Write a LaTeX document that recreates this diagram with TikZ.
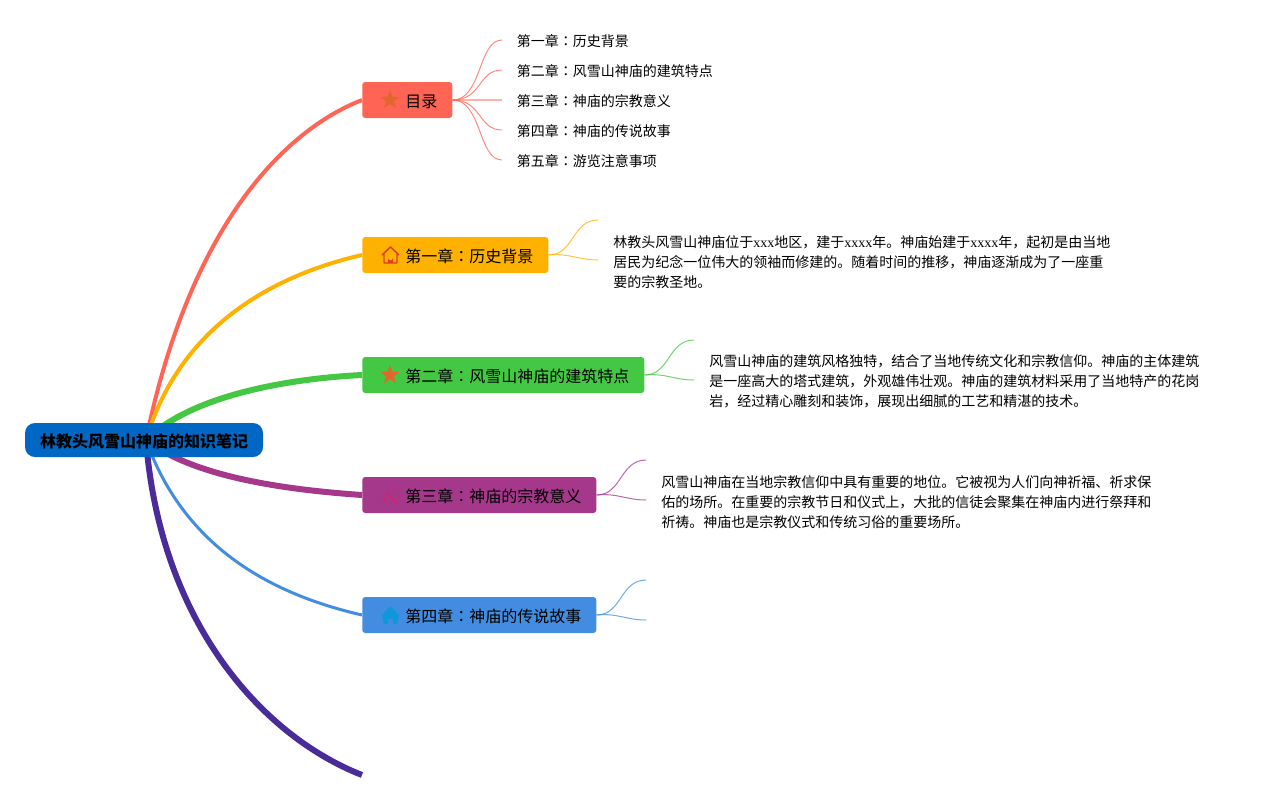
\documentclass[tikz,border=0pt]{standalone}
\usepackage{fontspec}
\setmainfont{Noto Sans CJK SC}
\newfontfamily\colonfont{Noto Sans CJK TC}
\newfontfamily\latinfont{Liberation Serif}
\usepackage{tikz}
\usetikzlibrary{shapes.geometric, positioning, backgrounds}

\newcommand{\cln}{{\colonfont ：}}
\newcommand{\xs}[1]{{\latinfont #1}}

\begin{document}
\begin{tikzpicture}[
    x=0.75pt, y=-0.75pt,
    node distance=48.75pt,
    topic/.style={draw=none, fill=#1, rounded corners=2.25pt, minimum height=27pt, inner xsep=11.25pt, inner ysep=0pt, text height=11.5pt, text depth=0.9pt, font=\fontsize{12}{15}\selectfont, execute at begin node=\hspace*{21pt}},
    rootnode/.style={fill=rootblue, rounded corners=7.5pt, minimum width=178.5pt, minimum height=25.5pt, inner sep=0pt, text height=11.5pt, text depth=0.9pt, font=\fontsize{12}{15}\selectfont\bfseries},
    leaf/.style={inner sep=0pt, anchor=west, font=\fontsize{10.5}{15}\selectfont},
    para/.style={inner sep=0pt, align=left, font=\fontsize{10.5}{15}\selectfont},
    limb/.style={line width=3pt},
    twig/.style={line width=0.75pt, opacity=0.75},
    staricon/.style={star, star points=5, star point ratio=2.4, fill=iconorange, inner sep=0pt, minimum size=15pt}
]
    \definecolor{rootblue}{HTML}{0067C5}
    \definecolor{tocred}{HTML}{FF6455}
    \definecolor{oneyellow}{HTML}{FFB100}
    \definecolor{twogreen}{HTML}{44C742}
    \definecolor{threepurple}{HTML}{A5388A}
    \definecolor{fourblue}{HTML}{438DE0}
    \definecolor{fiveindigo}{HTML}{492C99}
    \definecolor{iconorange}{HTML}{E2672F}
    \definecolor{iconred}{HTML}{E23A2A}
    \definecolor{iconpink}{HTML}{D9206F}
    \definecolor{iconblue}{HTML}{1296DB}

    \useasboundingbox (0,0) rectangle (1269,800);

    % Root and chapter nodes
    \node[rootnode] (root) at (144,440) {林教头风雪山神庙的知识笔记};
    \node[topic=tocred, anchor=west] (toc) at (362,100) {目录};
    \node[topic=oneyellow, anchor=west] (chone) at (362,255) {第一章\cln 历史背景};
    \node[topic=twogreen, anchor=west] (chtwo) at (362,375) {第二章\cln 风雪山神庙的建筑特点};
    \node[topic=threepurple, anchor=west] (chthree) at (362,495) {第三章\cln 神庙的宗教意义};
    \node[topic=fourblue, anchor=west] (chfour) at (362,615) {第四章\cln 神庙的传说故事};
    \coordinate (chfive) at (362,775);

    % Main branches
    \begin{scope}[on background layer]
        \draw[limb, tocred] ([xshift=1.5pt]root.center) .. controls (190,225) and (285,130) .. (toc.west);
        \draw[limb, oneyellow] ([xshift=1.5pt]root.center) .. controls (180,325) and (275,275) .. (chone.west);
        \draw[limb, twogreen, line width=4.5pt] ([xshift=1.5pt]root.center) .. controls (195,392) and (300,378) .. (chtwo.west);
        \draw[limb, threepurple, line width=4.5pt] ([xshift=1.5pt]root.center) .. controls (195,478) and (290,490) .. (chthree.west);
        \draw[limb, fourblue, line width=2.25pt] ([xshift=1.5pt]root.center) .. controls (185,550) and (275,595) .. (chfour.west);
        \draw[limb, fiveindigo, line width=4.5pt] ([xshift=1.5pt]root.center) .. controls (160,620) and (260,735) .. (chfive);
    \end{scope}

    % Contents
    \node[leaf] (tocone) at (516.5,41.5) {第一章\cln 历史背景};
    \node[leaf] (toctwo) at (516.5,71.5) {第二章\cln 风雪山神庙的建筑特点};
    \node[leaf] (tocthree) at (516.5,101.5) {第三章\cln 神庙的宗教意义};
    \node[leaf] (tocfour) at (516.5,131.5) {第四章\cln 神庙的传说故事};
    \node[leaf] (tocfive) at (516.5,161.5) {第五章\cln 游览注意事项};

    \coordinate (tipa) at (502,40);
    \coordinate (tipb) at (502,70);
    \coordinate (tipc) at (502,100);
    \coordinate (tipd) at (502,130);
    \coordinate (tipe) at (502,160);
    \draw[twig, tocred] (toc.east) .. controls (482,100) and (478,40) .. (tipa);
    \draw[twig, tocred] (toc.east) .. controls (482,100) and (478,70) .. (tipb);
    \draw[twig, tocred, line width=1.5pt, opacity=0.5] (toc.east) -- (tipc);
    \draw[twig, tocred] (toc.east) .. controls (482,100) and (478,130) .. (tipd);
    \draw[twig, tocred] (toc.east) .. controls (482,100) and (478,160) .. (tipe);

    % Chapter texts
    \node[para, right=of chone, yshift=-5pt, xshift=-0.4pt] (textone) {林教头风雪山神庙位于\xs{xxx}地区，建于\xs{xxxx}年。神庙始建于\xs{xxxx}年，起初是由当地\\居民为纪念一位伟大的领袖而修建的。随着时间的推移，神庙逐渐成为了一座重\\要的宗教圣地。};
    \node[para, right=of chtwo, yshift=-5pt, xshift=-0.4pt] (texttwo) {风雪山神庙的建筑风格独特，结合了当地传统文化和宗教信仰。神庙的主体建筑\\是一座高大的塔式建筑，外观雄伟壮观。神庙的建筑材料采用了当地特产的花岗\\岩，经过精心雕刻和装饰，展现出细腻的工艺和精湛的技术。};
    \node[para, right=of chthree, yshift=-5pt, xshift=-0.4pt] (textthree) {风雪山神庙在当地宗教信仰中具有重要的地位。它被视为人们向神祈福、祈求保\\佑的场所。在重要的宗教节日和仪式上，大批的信徒会聚集在神庙内进行祭拜和\\祈祷。神庙也是宗教仪式和传统习俗的重要场所。};

    % Chapter twigs
    \coordinate (onea) at (598,220);
    \coordinate (oneb) at (598,260);
    \draw[twig, oneyellow] (chone.east) .. controls (574,255) and (572,220) .. (onea);
    \draw[twig, oneyellow] (chone.east) .. controls (570,253) and (578,260) .. (oneb);
    \coordinate (twoa) at (694,340);
    \coordinate (twob) at (694,380);
    \draw[twig, twogreen] (chtwo.east) .. controls (670,375) and (668,340) .. (twoa);
    \draw[twig, twogreen] (chtwo.east) .. controls (666,373) and (674,380) .. (twob);
    \coordinate (threea) at (646,460);
    \coordinate (threeb) at (646,500);
    \draw[twig, threepurple] (chthree.east) .. controls (622,495) and (620,460) .. (threea);
    \draw[twig, threepurple] (chthree.east) .. controls (618,493) and (626,500) .. (threeb);
    \coordinate (foura) at (646,580);
    \coordinate (fourb) at (646,620);
    \draw[twig, fourblue] (chfour.east) .. controls (622,615) and (620,580) .. (foura);
    \draw[twig, fourblue] (chfour.east) .. controls (618,613) and (626,620) .. (fourb);

    % Icons
    \node[staricon] (tocicon) at ([xshift=21pt]toc.west) {};
    \node[staricon] (twoicon) at ([xshift=21pt]chtwo.west) {};
    \draw[iconred, line width=1.1pt, line join=round] (382,255) -- (390.5,247) -- (399,255) (384,253) -- (384,263) -- (397,263) -- (397,253);
    \fill[iconred] (388,263) -- (388,258) arc[start angle=180, end angle=0, radius=2.5] -- (393,263) -- cycle;
    \draw[iconpink, line width=1.5pt] (387,493) -- (397,503);
    \fill[iconpink] (384.5,500) circle[radius=2] (394,488.5) circle[radius=1.5] (399,497) circle[radius=0.8];
    \fill[iconblue] (390.5,606) -- (399,615) -- (397,624) -- (393,624) -- (393,619) -- (388,619) -- (388,624) -- (384,624) -- (382,615) -- cycle;

\end{tikzpicture}
\end{document}
